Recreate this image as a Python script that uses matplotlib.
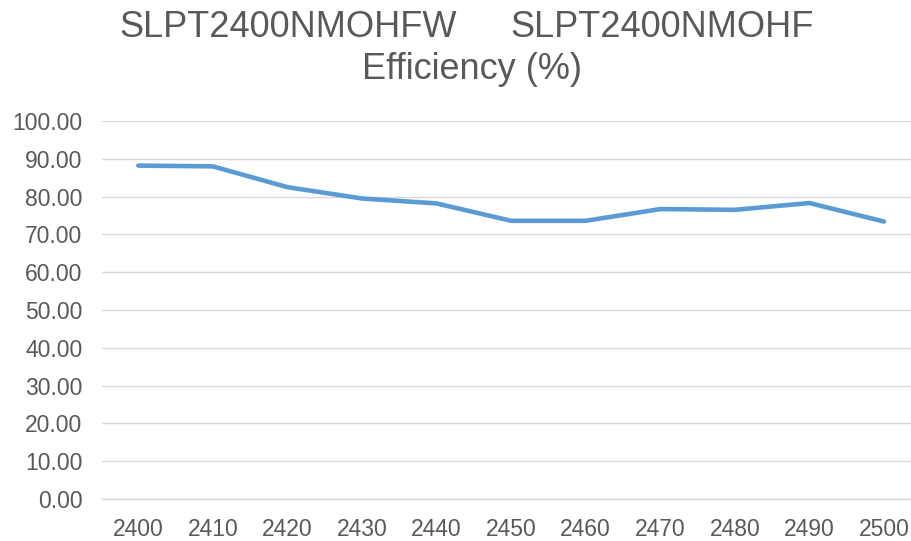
import matplotlib
matplotlib.use("Agg")
import matplotlib.pyplot as plt

frequencies = [2400, 2410, 2420, 2430, 2440, 2450, 2460, 2470, 2480, 2490, 2500]
efficiency = [88.2, 88.0, 82.5, 79.5, 78.2, 73.6, 73.6, 76.7, 76.5, 78.3, 73.4]
y_ticks = [0, 10, 20, 30, 40, 50, 60, 70, 80, 90, 100]
title_part1 = "SLPT2400NMOHFW"
title_part2 = "SLPT2400NMOHF"
title_line2 = "Efficiency (%)"

plt.rcParams['font.family'] = ['Liberation Sans', 'DejaVu Sans']

W, H = 912, 541
fig = plt.figure(figsize=(W / 100, H / 100), dpi=100)
left_px, right_px = 101.7, 922.0
top_px, bottom_px = 121.0, 499.0
ax = fig.add_axes([left_px / W, 1 - bottom_px / H, (right_px - left_px) / W, (bottom_px - top_px) / H])

ax.plot(frequencies, efficiency, color='#5b9bd5', linewidth=3.3, solid_capstyle='round', solid_joinstyle='round', zorder=3)

ax.set_xlim(2395.1, 2505.1)
ax.set_ylim(0, 100)
ax.set_yticks(y_ticks)
ax.set_yticklabels([f"{v:.2f}" for v in y_ticks])
ax.set_xticks(frequencies)
ax.set_xticklabels([str(f) for f in frequencies])

ax.grid(axis='y', color='#d9d9d9', linewidth=1.0)
ax.set_axisbelow(True)
for s in ['top', 'right', 'left']:
    ax.spines[s].set_visible(False)
ax.spines['bottom'].set_color('#d9d9d9')
ax.spines['bottom'].set_linewidth(1.0)
ax.tick_params(axis='both', length=0, colors='#595959', labelsize=16.5)
ax.tick_params(axis='y', pad=14)
ax.tick_params(axis='x', pad=14)

fig.text(119 / W, 1 - 36.7 / H, title_part1, ha='left', va='baseline', fontsize=26, color='#595959')
fig.text(510 / W, 1 - 36.7 / H, title_part2, ha='left', va='baseline', fontsize=26, color='#595959')
fig.text(472 / W, 1 - 79.3 / H, title_line2, ha='center', va='baseline', fontsize=26, color='#595959')

fig.savefig("out.png", dpi=100)
